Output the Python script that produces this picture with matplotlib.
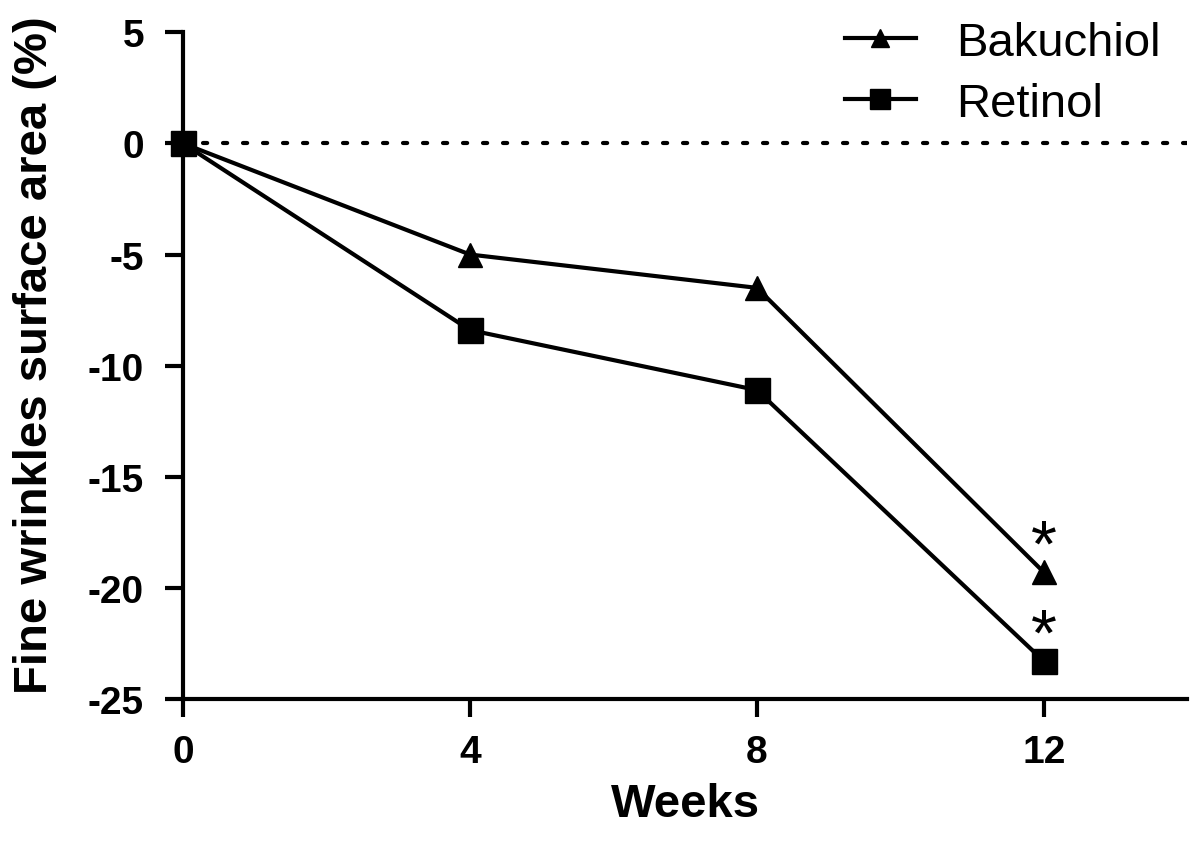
import numpy as np
import matplotlib
matplotlib.use("Agg")
import matplotlib.pyplot as plt

plt.rcParams['font.family'] = ['Liberation Sans', 'DejaVu Sans']

# data
weeks = [0, 4, 8, 12]
bakuchiol = [0, -5.0, -6.5, -19.3]
retinol = [0, -8.4, -11.1, -23.3]
star_weeks = [12, 12]
star_vals = [-19.3, -23.3]
yticks = [5, 0, -5, -10, -15, -20, -25]
xticks = [0, 4, 8, 12]

fig = plt.figure(figsize=(12, 8.45), dpi=100, facecolor='white')
ax = fig.add_axes([0.1525, 0.1716, 0.837, 0.789])

# dotted baseline at zero
ax.plot([0, 14], [0, 0], color='black', lw=3, linestyle=(0, (1, 3.8)),
        dash_capstyle='round', zorder=1)

ax.plot(weeks, bakuchiol, color='black', lw=3, marker='^', markersize=17,
        label='Bakuchiol', zorder=3, clip_on=False)
ax.plot(weeks, retinol, color='black', lw=3, marker='s', markersize=18,
        label='Retinol', zorder=3, clip_on=False)

# significance stars above week 12 points
for xs, ys in zip(star_weeks, star_vals):
    ax.annotate('*', (xs, ys), xytext=(0, 17), textcoords='offset points',
                ha='center', va='center', fontsize=48)

ax.set_xlim(0, 14)
ax.set_ylim(-25, 5)
ax.set_xticks(xticks)
ax.set_yticks(yticks)
ax.set_yticklabels([str(v) for v in yticks])

for side in ['top', 'right']:
    ax.spines[side].set_visible(False)
for side in ['left', 'bottom']:
    ax.spines[side].set_linewidth(3)

ax.tick_params(axis='both', direction='out', length=13, width=3,
               labelsize=28)
ax.tick_params(axis='y', pad=15)
ax.tick_params(axis='x', pad=12)
for lab in ax.get_xticklabels() + ax.get_yticklabels():
    lab.set_fontweight('bold')

ax.set_xlabel('Weeks', fontsize=34, fontweight='bold', labelpad=9)
ax.set_ylabel('Fine wrinkles surface area (%)', fontsize=34,
              fontweight='bold')
ax.yaxis.set_label_coords(-0.147, 0.517)
ax.yaxis.label.set_va('center')

ax.legend(loc='upper left', bbox_to_anchor=(0.704, 1 - 22 / 845),
          bbox_transform=fig.transFigure, frameon=False, fontsize=34,
          handlelength=1.5, handletextpad=0.85, labelspacing=0.35,
          borderpad=0, borderaxespad=0, markerscale=0.8)

fig.savefig('out.png', dpi=100, facecolor='white')
